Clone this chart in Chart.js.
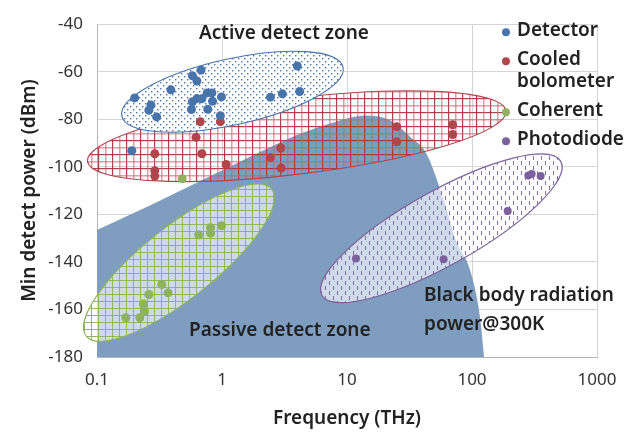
<!DOCTYPE html>
<html>
<head>
<meta charset="utf-8">
<script src="https://cdn.jsdelivr.net/npm/chart.js@4.4.1/dist/chart.umd.min.js"></script>
<style>
  html, body { margin: 0; padding: 0; background: #fff; }
</style>
</head>
<body>
<canvas id="chart" width="638" height="435"></canvas>
<script>
// values
const seriesNames = ['Detector', 'Cooled\nbolometer', 'Coherent', 'Photodiode'];

const detectorFreq  = [0.20, 0.27, 0.26, 0.30, 0.39, 0.58, 0.68, 0.63, 0.58, 0.63, 0.69, 0.76, 0.83, 0.84, 0.99, 0.57, 0.77, 0.97, 2.44, 3.04, 4.18, 4.0, 0.19];
const detectorPower = [-71, -74, -76.2, -79, -67.6, -61.7, -59.3, -63.9, -72.6, -71.3, -71.4, -68.9, -68.9, -72.4, -70.6, -75.9, -75.8, -78.5, -70.7, -69.3, -68.3, -57.6, -93.2];

const bolometerFreq  = [0.67, 0.97, 0.62, 0.29, 0.29, 0.29, 0.69, 1.08, 2.44, 2.95, 2.97, 25, 25, 70, 70];
const bolometerPower = [-81, -81, -87.6, -94.5, -101.6, -103.9, -94.5, -99, -96.1, -92.1, -100.5, -83.1, -89.5, -82.3, -86.4];

const coherentFreq  = [0.48, 0.65, 0.81, 0.81, 0.99, 0.33, 0.37, 0.26, 0.235, 0.24, 0.22, 0.17];
const coherentPower = [-105, -128.6, -125.6, -127.9, -124.8, -149.5, -153, -153.7, -157.7, -160.9, -163.5, -163.5];

const photodiodeFreq  = [282, 300, 354, 193, 11.8, 59.3];
const photodiodePower = [-103.7, -103, -103.9, -118.6, -138.6, -138.9];

// black body radiation power @300K, outline of the shaded area
const blackbodyFreq  = [0.1, 0.27, 0.67, 2.3, 4.2, 7.8, 14, 22, 32, 43, 59, 75, 96, 116, 125];
const blackbodyPower = [-126.6, -116.1, -106, -92.3, -86.1, -81.3, -78.4, -80.4, -87.3, -94.3, -113.5, -131.4, -143, -163.5, -180];

const xTickValues = [0.1, 1, 10, 100, 1000];
const xTickLabels = ['0.1', '1', '10', '100', '1000'];

const FONT = "'Noto Sans', 'Open Sans', sans-serif";
const colors = ['rgb(72,116,172)', 'rgb(176,70,76)', 'rgb(143,178,95)', 'rgb(122,96,156)'];

const toPoints = (xs, ys) => xs.map((x, i) => ({ x: x, y: ys[i] }));

// hatch patterns
function makePattern(w, h, draw) {
  const c = document.createElement('canvas');
  c.width = w; c.height = h;
  const g = c.getContext('2d');
  draw(g);
  return g.createPattern(c, 'repeat');
}
const dotPattern = makePattern(6, 6, g => {
  g.fillStyle = 'rgb(72,116,172)';
  g.fillRect(1, 1, 1.4, 1.4);
  g.fillRect(4, 4, 1.4, 1.4);
});
const redGrid = makePattern(14, 14, g => {
  g.fillStyle = 'rgba(170,55,65,0.95)';
  g.fillRect(0, 0, 1.2, 14);
  g.fillRect(0, 0, 14, 1.2);
  g.fillStyle = 'rgba(190,100,110,0.6)';
  g.fillRect(7, 0, 1.5, 14);
  g.fillRect(0, 7, 14, 1.5);
});
const greenGrid = makePattern(7, 7, g => {
  g.fillStyle = 'rgba(140,180,95,0.95)';
  g.fillRect(0, 0, 1, 7);
  g.fillRect(0, 0, 7, 1);
});
const dashPattern = makePattern(8, 10, g => {
  g.fillStyle = 'rgba(122,96,160,0.9)';
  g.fillRect(1, 1, 1, 4);
  g.fillRect(5, 6, 1, 4);
});

// zone ellipses: ends of the long axis in data units, half width in px
const zones = [
  { from: [0.084, -97.7], to: [187, -76.5], half: 38, color: 'rgb(176,70,76)', fill: null, pattern: redGrid },
  { from: [0.158, -78.7], to: [9.3, -58.1], half: 33, color: 'rgb(72,116,172)', fill: '#fff', pattern: dotPattern },
  { from: [0.082, -171.2], to: [2.5, -109.4], half: 36, color: 'rgb(143,178,95)', fill: 'rgba(255,255,255,0.62)', pattern: greenGrid },
  { from: [6.3, -154], to: [513, -97.7], half: 37, color: 'rgb(122,96,156)', fill: 'rgba(255,255,255,0.62)', pattern: dashPattern }
];

const zonePlugin = {
  id: 'zones',
  afterDatasetDraw(chart, args) {
    if (args.index !== 4) return;
    const ctx = chart.ctx, xs = chart.scales.x, ys = chart.scales.y;
    ctx.save();
    zones.forEach(z => {
      const x1 = xs.getPixelForValue(z.from[0]), y1 = ys.getPixelForValue(z.from[1]);
      const x2 = xs.getPixelForValue(z.to[0]), y2 = ys.getPixelForValue(z.to[1]);
      const a = Math.hypot(x2 - x1, y2 - y1) / 2;
      const ang = Math.atan2(y2 - y1, x2 - x1);
      ctx.beginPath();
      ctx.ellipse((x1 + x2) / 2, (y1 + y2) / 2, a, z.half, ang, 0, Math.PI * 2);
      if (z.fill) { ctx.fillStyle = z.fill; ctx.fill(); }
      ctx.fillStyle = z.pattern; ctx.fill();
      ctx.lineWidth = 1.1; ctx.strokeStyle = z.color; ctx.stroke();
    });
    ctx.restore();
  }
};

// labels written on the plot, anchored in data units
const notes = [
  { text: 'Active detect zone', x: 3.13, y: -44, align: 'center' },
  { text: 'Passive detect zone', x: 0.545, y: -168.8, align: 'left' },
  { text: 'Black body radiation', x: 41.3, y: -154, align: 'left' },
  { text: 'power@300K', x: 41.3, y: -166.3, align: 'left' }
];

const notesPlugin = {
  id: 'notes',
  afterDatasetsDraw(chart) {
    const ctx = chart.ctx, xs = chart.scales.x, ys = chart.scales.y;
    ctx.save();
    ctx.font = '600 19px ' + FONT;
    ctx.fillStyle = '#222';
    ctx.textBaseline = 'middle';
    notes.forEach(n => {
      ctx.textAlign = n.align;
      ctx.fillText(n.text, xs.getPixelForValue(n.x), ys.getPixelForValue(n.y));
    });
    ctx.restore();
  }
};

// legend on the top right, inside the plot
const legendPlugin = {
  id: 'sideLegend',
  afterDraw(chart) {
    const ctx = chart.ctx;
    const mx = chart.chartArea.right - 91;
    let y = chart.chartArea.top + 8;
    ctx.save();
    ctx.font = '600 19px ' + FONT;
    ctx.textBaseline = 'middle';
    ctx.textAlign = 'left';
    seriesNames.forEach((name, i) => {
      ctx.fillStyle = colors[i];
      ctx.beginPath();
      ctx.arc(mx, y, 4, 0, Math.PI * 2);
      ctx.fill();
      ctx.fillStyle = '#222';
      const lines = name.split('\n');
      lines.forEach((ln, j) => ctx.fillText(ln, mx + 11, y - 2 + j * 22));
      y += 29 + (lines.length - 1) * 22;
    });
    ctx.restore();
  }
};

const scatterSet = (i, xs, ys) => ({
  type: 'scatter',
  label: seriesNames[i],
  data: toPoints(xs, ys),
  backgroundColor: colors[i],
  borderWidth: 0,
  pointRadius: i === 3 ? 4 : 4.5,
  order: 0
});

new Chart(document.getElementById('chart'), {
  data: {
    datasets: [
      scatterSet(0, detectorFreq, detectorPower),
      scatterSet(1, bolometerFreq, bolometerPower),
      scatterSet(2, coherentFreq, coherentPower),
      scatterSet(3, photodiodeFreq, photodiodePower),
      {
        type: 'line',
        label: 'Black body radiation power@300K',
        data: toPoints(blackbodyFreq, blackbodyPower),
        borderWidth: 0,
        borderColor: 'rgba(0,0,0,0)',
        backgroundColor: 'rgb(127,158,191)',
        fill: 'start',
        pointRadius: 0,
        cubicInterpolationMode: 'monotone',
        order: 10
      }
    ]
  },
  options: {
    responsive: false,
    animation: false,
    events: [],
    layout: { padding: { top: 18, right: 41, left: 0, bottom: 0 } },
    plugins: {
      legend: { display: false },
      tooltip: { enabled: false }
    },
    scales: {
      x: {
        type: 'logarithmic',
        min: 0.1,
        max: 1000,
        afterBuildTicks: s => { s.ticks = xTickValues.map(v => ({ value: v })); },
        afterFit: s => { s.height = 78; },
        ticks: {
          callback: (v, i) => xTickLabels[i],
          font: { family: FONT, size: 17 },
          color: '#333',
          padding: 13,
          autoSkip: false,
          maxRotation: 0
        },
        grid: { color: '#d4d4d4', drawTicks: false },
        border: { color: '#b5b5b5' },
        title: {
          display: true,
          text: 'Frequency (THz)',
          font: { family: FONT, size: 19, weight: '600' },
          color: '#222',
          padding: { top: 4, bottom: 5 }
        }
      },
      y: {
        min: -180,
        max: -40,
        afterFit: s => { s.width = 97; },
        ticks: {
          stepSize: 20,
          font: { family: FONT, size: 17 },
          color: '#333',
          padding: 14
        },
        grid: { color: '#d4d4d4', drawTicks: false },
        border: { color: '#b5b5b5' },
        title: {
          display: true,
          text: 'Min detect power (dBm)',
          font: { family: FONT, size: 19, weight: '600' },
          color: '#222',
          padding: { top: 18, bottom: 4 }
        }
      }
    }
  },
  plugins: [zonePlugin, notesPlugin, legendPlugin]
});
</script>
</body>
</html>
